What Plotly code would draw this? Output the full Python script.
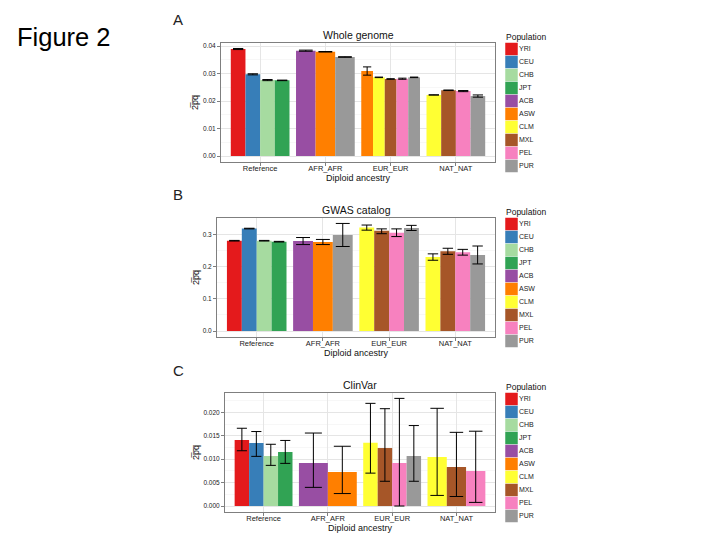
import plotly.graph_objects as go

# page is 720x540; the html body adds an 8px margin, so the figure is 712x532
PAGE_W, PAGE_H = 720, 540
OFF = 8
W, H = PAGE_W - OFF, PAGE_H - OFF

# ---------------- data ----------------
populations = ["YRI", "CEU", "CHB", "JPT", "ACB", "ASW", "CLM", "MXL", "PEL", "PUR"]
pop_colors = ["#E41A1C", "#377EB8", "#A6DBA0", "#31A354", "#984EA3",
              "#FF7F00", "#FFFF33", "#A65628", "#F781BF", "#999999"]
groups = ["Reference", "AFR_AFR", "EUR_EUR", "NAT_NAT"]

# Panel A: Whole genome
wg_group = ["Reference"] * 4 + ["AFR_AFR"] * 3 + ["EUR_EUR"] * 5 + ["NAT_NAT"] * 4
wg_pop = ["YRI", "CEU", "CHB", "JPT", "ACB", "ASW", "PUR",
          "ASW", "CLM", "MXL", "PEL", "PUR", "CLM", "MXL", "PEL", "PUR"]
wg_value = [0.0389, 0.0297, 0.0276, 0.0275, 0.0383, 0.0379, 0.0360,
            0.0309, 0.0286, 0.0280, 0.0281, 0.0286, 0.0222, 0.0239, 0.0236, 0.0218]
wg_err_hi = [0.0002, 0.0002, 0.0002, 0.0001, 0.0002, 0.0001, 0.0001,
             0.0015, 0.0001, 0.0001, 0.0002, 0.0001, 0.00005, 0.0001, 0.0002, 0.0004]
wg_err_lo = [0.0002, 0.0002, 0.0002, 0.0001, 0.0002, 0.0001, 0.0001,
             0.0015, 0.0001, 0.0001, 0.0002, 0.0001, 0.00005, 0.0001, 0.0002, 0.0004]

# Panel B: GWAS catalog
gw_group = ["Reference"] * 4 + ["AFR_AFR"] * 3 + ["EUR_EUR"] * 4 + ["NAT_NAT"] * 4
gw_pop = ["YRI", "CEU", "CHB", "JPT", "ACB", "ASW", "PUR",
          "CLM", "MXL", "PEL", "PUR", "CLM", "MXL", "PEL", "PUR"]
gw_value = [0.282, 0.320, 0.282, 0.279, 0.281, 0.278, 0.300,
            0.323, 0.313, 0.307, 0.322, 0.231, 0.249, 0.246, 0.2375]
gw_err_hi = [0.001, 0.001, 0.001, 0.001, 0.011, 0.008, 0.036,
             0.008, 0.006, 0.012, 0.008, 0.010, 0.0095, 0.009, 0.028]
gw_err_lo = [0.001, 0.001, 0.001, 0.001, 0.011, 0.008, 0.036,
             0.008, 0.009, 0.012, 0.008, 0.010, 0.0095, 0.009, 0.028]

# Panel C: ClinVar
cv_group = ["Reference"] * 4 + ["AFR_AFR"] * 2 + ["EUR_EUR"] * 4 + ["NAT_NAT"] * 3
cv_pop = ["YRI", "CEU", "CHB", "JPT", "ACB", "ASW",
          "CLM", "MXL", "PEL", "PUR", "CLM", "MXL", "PEL"]
cv_value = [0.0141, 0.01345, 0.01068, 0.01153, 0.00918, 0.00726,
            0.01352, 0.01238, 0.00918, 0.01068, 0.01046, 0.00833, 0.00747]
cv_err_hi = [0.0025, 0.00245, 0.0025, 0.00247, 0.0064, 0.0055,
             0.0084, 0.0084, 0.0138, 0.0065, 0.0104, 0.0074, 0.0085]
cv_err_lo = [0.0023, 0.00285, 0.0020, 0.00243, 0.0052, 0.0046,
             0.0065, 0.0071, 0.00918, 0.0054, 0.0082, 0.0063, 0.0067]

# ---------------- layout helpers ----------------
FONT = "Liberation Sans, Arial, Helvetica, sans-serif"


def fx(x):
    """page pixel x -> paper coordinate"""
    return (x - OFF) / W


def fy(y):
    """page pixel y -> paper coordinate"""
    return 1 - (y - OFF) / H


panels = [
    dict(title="Whole genome", letter="A", left=221, right=495, top=43, bottom=162,
         yrange=[-0.00218, 0.04109], dtick=0.01, minor=0.005, fmt=".2f",
         data=(wg_group, wg_pop, wg_value, wg_err_hi, wg_err_lo)),
    dict(title="GWAS catalog", letter="B", left=217, right=495, top=218, bottom=337,
         yrange=[-0.01875, 0.353], dtick=0.1, minor=0.05, fmt=".1f",
         data=(gw_group, gw_pop, gw_value, gw_err_hi, gw_err_lo)),
    dict(title="ClinVar", letter="C", left=225, right=495, top=393, bottom=512,
         yrange=[-0.00128, 0.02413], dtick=0.005, minor=0.0025, fmt=".3f",
         data=(cv_group, cv_pop, cv_value, cv_err_hi, cv_err_lo)),
]

fig = go.Figure()
layout = dict(
    width=W, height=H, margin=dict(l=0, r=0, t=0, b=0),
    paper_bgcolor="white", plot_bgcolor="white", showlegend=False,
    barmode="overlay", font=dict(family=FONT, color="#222222"),
)
annotations = []

annotations.append(dict(text="Figure 2", x=fx(15), y=fy(37), xref="paper", yref="paper",
                        xanchor="left", yanchor="middle", showarrow=False,
                        font=dict(size=25.5, color="black", family=FONT)))

for i, p in enumerate(panels, start=1):
    s = "" if i == 1 else str(i)
    grp, pop, val, hi, lo = p["data"]
    pxu = (p["right"] - p["left"]) / 4.2
    for gi, g in enumerate(groups):
        idx = [j for j in range(len(grp)) if grp[j] == g]
        n = len(idx)
        w = 0.9 / n
        cap = min(0.35 * w * pxu, 8.5)
        for k, j in enumerate(idx):
            xc = gi + 1 - 0.45 + w * (k + 0.5)
            col = pop_colors[populations.index(pop[j])]
            fig.add_trace(go.Bar(
                x=[xc], y=[val[j]], width=[w],
                marker=dict(color=col, line=dict(width=0)),
                error_y=dict(type="data", symmetric=False, array=[hi[j]],
                             arrayminus=[lo[j]], color="black", thickness=1, width=cap),
                xaxis="x" + s, yaxis="y" + s, showlegend=False, hoverinfo="skip"))

    layout["xaxis" + s] = dict(
        domain=[fx(p["left"]), fx(p["right"])], anchor="y" + s, range=[0.4, 4.6],
        tickmode="array", tickvals=[1, 2, 3, 4], ticktext=groups,
        showgrid=True, gridcolor="#E5E5E5", gridwidth=1, zeroline=False,
        ticks="outside", ticklen=3, tickcolor="#7F7F7F", ticklabelstandoff=-4,
        showline=True, mirror=True, linecolor="#7F7F7F", linewidth=1,
        tickfont=dict(size=7.5, color="#222222"), fixedrange=True)
    layout["yaxis" + s] = dict(
        domain=[fy(p["bottom"]), fy(p["top"])], anchor="x" + s, range=p["yrange"],
        dtick=p["dtick"], tick0=0, tickformat=p["fmt"],
        showgrid=True, gridcolor="#E5E5E5", gridwidth=1, zeroline=False,
        minor=dict(dtick=p["minor"], tick0=0, showgrid=True, gridcolor="#F7F7F7", ticks=""),
        ticks="outside", ticklen=3, tickcolor="#7F7F7F",
        showline=True, mirror=True, linecolor="#7F7F7F", linewidth=1,
        tickfont=dict(size=6.5, color="#222222"), fixedrange=True)

    cx = (p["left"] + p["right"]) / 2
    cy = (p["top"] + p["bottom"]) / 2
    annotations += [
        dict(text=p["letter"], x=fx(171), y=fy(p["top"] - 23), xref="paper", yref="paper",
             xanchor="left", yanchor="middle", showarrow=False,
             font=dict(size=15, color="#222222")),
        dict(text=p["title"], x=fx(cx), y=fy(p["top"] - 8), xref="paper", yref="paper",
             xanchor="center", yanchor="middle", showarrow=False,
             font=dict(size=10.5, color="#111111")),
        dict(text="Diploid ancestry", x=fx(cx), y=fy(p["bottom"] + 16), xref="paper",
             yref="paper", xanchor="center", yanchor="middle", showarrow=False,
             font=dict(size=9, color="#111111")),
        dict(text="2\u0305p\u0305q\u0305", x=fx(195.5), y=fy(cy), xref="paper", yref="paper",
             xanchor="center", yanchor="middle", showarrow=False, textangle=-90,
             font=dict(size=9, color="#111111")),
        dict(text="Population", x=fx(504), y=fy(p["top"] - 6), xref="paper", yref="paper",
             xanchor="left", yanchor="middle", showarrow=False,
             font=dict(size=8.5, color="#111111")),
    ]

    # legend swatches drawn in a hidden helper axis
    ls = str(i + 3)
    layout["xaxis" + ls] = dict(domain=[fx(505), fx(565)], range=[0, 60], visible=False,
                                anchor="y" + ls, fixedrange=True)
    layout["yaxis" + ls] = dict(domain=[fy(p["top"] + 129.5), fy(p["top"] - 0.5)],
                                range=[9.5, -0.5], visible=False, anchor="x" + ls,
                                fixedrange=True)
    fig.add_trace(go.Scatter(
        x=[6.5] * len(populations), y=list(range(len(populations))), mode="markers",
        marker=dict(symbol="square", size=12.5, color=pop_colors, line=dict(width=0)),
        xaxis="x" + ls, yaxis="y" + ls, showlegend=False, hoverinfo="skip", cliponaxis=False))
    fig.add_trace(go.Scatter(
        x=[14] * len(populations), y=list(range(len(populations))), mode="text",
        text=populations, textposition="middle right",
        textfont=dict(size=7, color="#222222", family=FONT),
        xaxis="x" + ls, yaxis="y" + ls, showlegend=False, hoverinfo="skip", cliponaxis=False))

layout["annotations"] = annotations
fig.update_layout(**layout)
fig.write_html("out.html")
